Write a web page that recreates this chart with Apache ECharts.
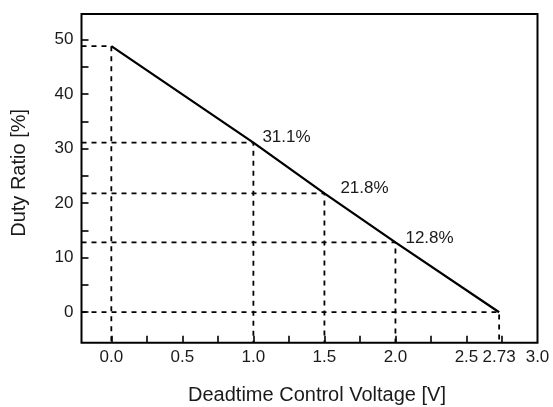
<!DOCTYPE html>
<html>
<head>
<meta charset="utf-8">
<script src="https://cdn.jsdelivr.net/npm/echarts@6/dist/echarts.min.js"></script>
<style>
html,body{margin:0;padding:0;background:#fff;}
#c{width:553px;height:407px;}
</style>
</head>
<body>
<div id="c"></div>
<script>
// ---- data ----
const voltage = [0, 1.0, 1.5, 2.0, 2.73];
const duty = [48.8, 31.1, 21.8, 12.8, 0];
const labeledIdx = [1, 2, 3];
const xLabelValues = [0, 0.5, 1.0, 1.5, 2.0, 2.5, 2.73, 3.0];
const xTickValues = [0, 0.25, 0.5, 0.75, 1.0, 1.25, 1.5, 1.75, 2.0, 2.25, 2.5, 2.75];
const yLabelValues = [0, 10, 20, 30, 40, 50];
const yTickValues = [0, 5, 10, 15, 20, 25, 30, 35, 40, 45, 50];
const xName = 'Deadtime Control Voltage [V]';
const yName = 'Duty Ratio [%]';

// ---- axis ranges / styles ----
const X_MIN = -0.21, X_MAX = 3.0;
const Y_MIN = -5.6, Y_MAX = 54.7;
const FONT = '"Liberation Sans", Arial, sans-serif';
const TXT = '#1a1a1a';
const labelOffsets = {1: [9, -5], 2: [16, -5], 3: [10, -4]};

const mainData = voltage.map((v, i) => [v, duty[i]]);
const guideSeries = voltage.map((v, i) => ({
  type: 'line',
  data: [[X_MIN, duty[i]], [v, duty[i]], [v, Y_MIN]],
  symbol: 'none',
  silent: true,
  lineStyle: {color: '#000', width: 1.8, type: [5, 5]},
  z: 2
}));

const labelData = labeledIdx.map(i => ({
  value: [voltage[i], duty[i]],
  label: {offset: labelOffsets[i], formatter: duty[i].toFixed(1) + '%'}
}));

const chart = echarts.init(document.getElementById('c'), null, {renderer: 'canvas'});
chart.setOption({
  animation: false,
  backgroundColor: '#fff',
  grid: {left: 81.5, right: 15.5, top: 14, bottom: 64.3, show: true,
         containLabel: false, outerBoundsMode: 'none',
         borderColor: '#000', borderWidth: 2, backgroundColor: 'transparent', z: 10},
  xAxis: {
    type: 'value', min: X_MIN, max: X_MAX,
    axisLine: {show: false, onZero: false},
    splitLine: {show: false},
    axisTick: {show: true, inside: true, length: 7, customValues: xTickValues,
               lineStyle: {color: '#000', width: 1.6}},
    axisLabel: {customValues: xLabelValues, margin: 6, color: TXT, fontFamily: FONT, fontSize: 17,
                formatter: v => (Math.abs(v - 2.73) < 1e-6 ? v.toFixed(2) : v.toFixed(1))},
    name: xName, nameLocation: 'middle', nameGap: 43,
    nameTextStyle: {color: TXT, fontFamily: FONT, fontSize: 20, padding: [0, 0, 0, 15]}
  },
  yAxis: {
    type: 'value', min: Y_MIN, max: Y_MAX,
    axisLine: {show: false, onZero: false},
    splitLine: {show: false},
    axisTick: {show: true, inside: true, length: 7, customValues: yTickValues,
               lineStyle: {color: '#000', width: 1.6}},
    axisLabel: {customValues: yLabelValues, margin: 8, color: TXT, fontFamily: FONT, fontSize: 17,
                formatter: v => String(v)},
    name: yName, nameLocation: 'middle', nameGap: 52,
    nameTextStyle: {color: TXT, fontFamily: FONT, fontSize: 20, padding: [0, 0, 0, 11]}
  },
  series: [
    ...guideSeries,
    {
      type: 'line', data: mainData, symbol: 'none', silent: true,
      lineStyle: {color: '#000', width: 2.3}, z: 5
    },
    {
      type: 'scatter', data: labelData, symbolSize: 0, silent: true, z: 6,
      itemStyle: {opacity: 1},
      label: {show: true, position: 'right', distance: 0, color: TXT,
              fontFamily: FONT, fontSize: 17}
    }
  ]
});
</script>
</body>
</html>
